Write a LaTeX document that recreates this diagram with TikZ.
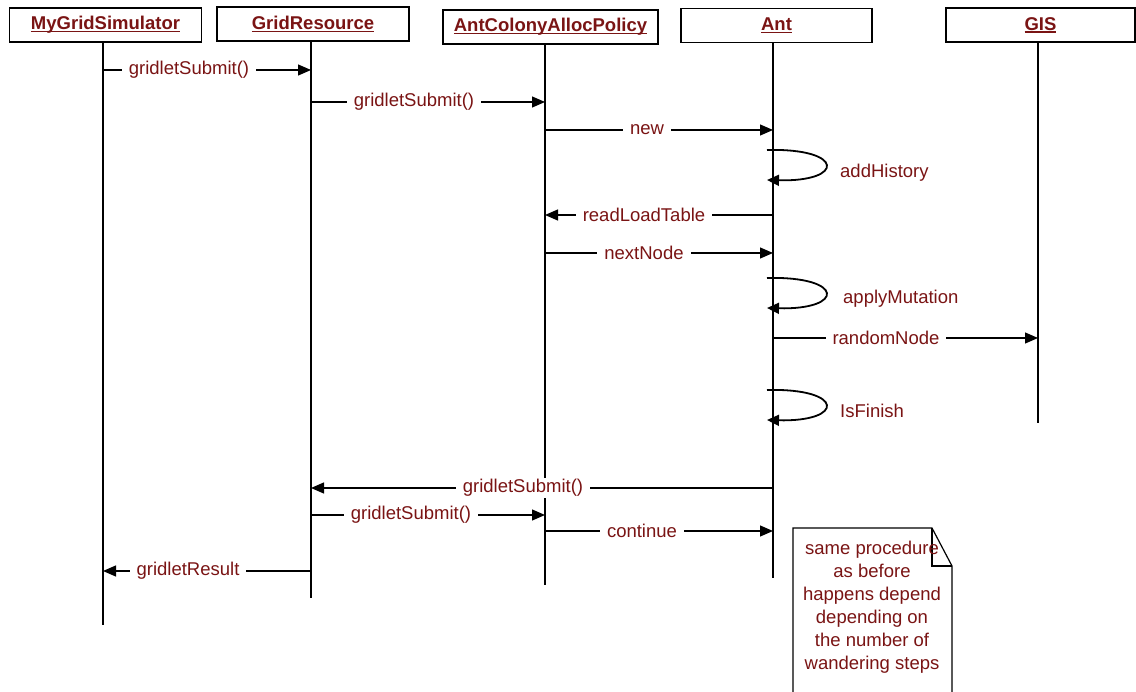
\documentclass[tikz,border=0pt]{standalone}
\usepackage{fontspec}
\setmainfont{Liberation Sans}
\usetikzlibrary{arrows.meta}
\definecolor{labelred}{RGB}{122,20,20}
% underlined header text
\newcommand\hdul[1]{\setbox0\hbox{#1}\rlap{\color{labelred}\rule[-2.5pt]{\wd0}{1.3pt}}\box0}

\begin{document}
\begin{tikzpicture}[x=1pt,y=-1pt,
  head/.style={draw=black,line width=1.4pt,fill=white,minimum height=34pt,inner sep=0pt,
    font=\fontsize{18.5}{20}\selectfont\bfseries,text=labelred},
  life/.style={line width=1.3pt},
  msg/.style={line width=1.2pt,-{Triangle[length=13pt,width=11pt]}},
  selfmsg/.style={line width=1.8pt,-{Triangle[length=12pt,width=11pt]}},
  lbl/.style={fill=white,inner xsep=7pt,inner ysep=1pt,text=labelred,
    font=\fontsize{18.5}{20}\selectfont},
  looplbl/.style={anchor=west,inner sep=0pt,text=labelred,font=\fontsize{18.5}{20}\selectfont},
  notebox/.style={draw=black,line width=1.2pt,fill=white}
]
\useasboundingbox (0,0) rectangle (1136,692);

% object headers
\node[head,minimum width=192pt] (sim) at (105.5,25)   {\hdul{MyGridSimulator}};
\node[head,minimum width=192pt] (gr)  at (313,24)     {\hdul{GridResource}};
\node[head,minimum width=215pt] (acp) at (550.5,27)   {\hdul{AntColonyAllocPolicy}};
\node[head,minimum width=191pt] (ant) at (776.5,25.5) {\hdul{Ant}};
\node[head,minimum width=189pt] (gis) at (1040.5,25)  {\hdul{GIS}};

% lifeline ends
\coordinate (simE) at (103,625);
\coordinate (grE)  at (311,598);
\coordinate (acpE) at (545,585);
\coordinate (antE) at (773,578);
\coordinate (gisE) at (1038,423);

\draw[life] (simE |- sim.south) -- (simE);
\draw[life] (grE |- gr.south) -- (grE);
\draw[life] (acpE |- acp.south) -- (acpE);
\draw[life] (antE |- ant.south) -- (antE);
\draw[life] (gisE |- gis.south) -- (gisE);

% message rows
\coordinate (r1) at (0,70);
\coordinate (r2) at (0,102);
\coordinate (r3) at (0,130);
\coordinate (r4) at (0,215);
\coordinate (r5) at (0,253);
\coordinate (r6) at (0,338);
\coordinate (r7) at (0,488);
\coordinate (r8) at (0,515);
\coordinate (r9) at (0,531);
\coordinate (r10) at (0,571);

% messages
\draw[msg] (simE |- r1) -- (grE |- r1);
\node[lbl] (m1) at (189,70) {gridletSubmit()};
\draw[msg] (grE |- r2) -- (acpE |- r2);
\node[lbl] (m2) at (414,102) {gridletSubmit()};
\draw[msg] (acpE |- r3) -- (antE |- r3);
\node[lbl] (m3) at (647,130) {new};
\draw[msg] (antE |- r4) -- (acpE |- r4);
\node[lbl] (m4) at (644,215) {readLoadTable};
\draw[msg] (acpE |- r5) -- (antE |- r5);
\node[lbl] (m5) at (644,253) {nextNode};
\draw[msg] (antE |- r6) -- (gisE |- r6);
\node[lbl] (m6) at (886,338) {randomNode};
\draw[msg] (antE |- r7) -- (grE |- r7);
\node[lbl] (m7) at (523,488) {gridletSubmit()};
\draw[msg] (grE |- r8) -- (acpE |- r8);
\node[lbl] (m8) at (411,515) {gridletSubmit()};
\draw[msg] (acpE |- r9) -- (antE |- r9);
\node[lbl] (m9) at (642,531) {continue};
\draw[msg] (grE |- r10) -- (simE |- r10);
\node[lbl] (m10) at (188,571) {gridletResult};

% self calls on Ant
\coordinate (s1a) at (767,150); \coordinate (s1b) at (767,180);
\coordinate (s2a) at (767,278); \coordinate (s2b) at (767,308);
\coordinate (s3a) at (767,390); \coordinate (s3b) at (767,420);
\draw[selfmsg] (s1a) .. controls +(78,-2) and +(78,2) .. (s1b);
\node[looplbl] (l1) at (840,173) {addHistory};
\draw[selfmsg] (s2a) .. controls +(78,-2) and +(78,2) .. (s2b);
\node[looplbl] (l2) at (843,299) {applyMutation};
\draw[selfmsg] (s3a) .. controls +(78,-2) and +(78,2) .. (s3b);
\node[looplbl] (l3) at (840,411) {IsFinish};

% note with folded corner
\draw[notebox] (793,528) -- (932,528) -- (952,566) -- (952,700) -- (793,700) -- cycle;
\draw[line width=1.2pt] (932,528) -- (932,566) -- (952,566);
\node[align=center,text=labelred,inner sep=0pt,font=\fontsize{18.5}{23}\selectfont] (note) at (872,607)
  {same procedure\\as before\\happens depend\\depending on\\the number of\\wandering steps};
\end{tikzpicture}
\end{document}
